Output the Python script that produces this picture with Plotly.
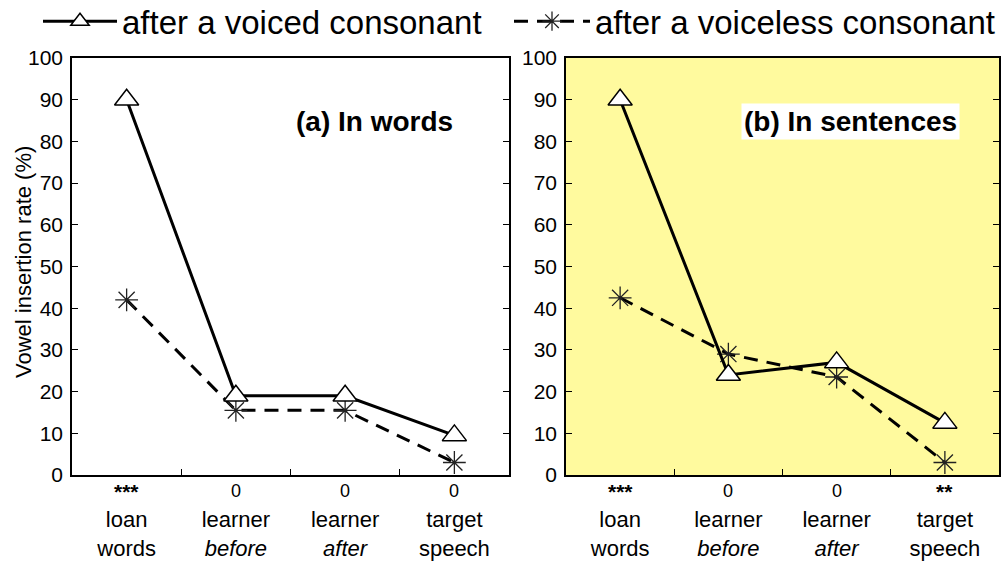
import plotly.graph_objects as go

# Conditions along the x axis (positions 1..4)
conditions = ["loan<br>words", "learner<br><i>before</i>", "learner<br><i>after</i>", "target<br>speech"]
positions = [1, 2, 3, 4]

# Vowel insertion rate (%) – (a) in words
words_voiced = [90, 19, 19, 9.5]
words_voiceless = [42, 15.5, 15.5, 3]
words_sig = ["***", "0", "0", "0"]

# Vowel insertion rate (%) – (b) in sentences
sent_voiced = [90, 24, 27, 12.5]
sent_voiceless = [42.5, 29, 23.5, 3]
sent_sig = ["***", "0", "0", "**"]

y_ticks = list(range(0, 101, 10))

FONT = "Liberation Sans, Arial, sans-serif"
W, H = 1001, 563


def px_x(p):
    return p / W


def px_y(p):
    return 1 - p / H


voiced_style = dict(
    mode="lines+markers",
    line=dict(color="black", width=3),
    marker=dict(symbol="triangle-up", size=21, color="white",
                line=dict(color="black", width=1.5)),
)
voiceless_style = dict(
    mode="lines+markers",
    line=dict(color="black", width=3, dash="14px,9px"),
    marker=dict(symbol="asterisk-open", size=19, color="#222",
                line=dict(color="#222", width=1.3)),
)

fig = go.Figure()

# (a) words
fig.add_trace(go.Scatter(x=positions, y=words_voiceless, xaxis="x", yaxis="y",
                         name="after a voiceless consonant", legend="legend2",
                         **voiceless_style))
fig.add_trace(go.Scatter(x=positions, y=words_voiced, xaxis="x", yaxis="y",
                         name="after a voiced consonant", legend="legend",
                         **voiced_style))
# (b) sentences
fig.add_trace(go.Scatter(x=positions, y=sent_voiceless, xaxis="x2", yaxis="y2",
                         showlegend=False, **voiceless_style))
fig.add_trace(go.Scatter(x=positions, y=sent_voiced, xaxis="x2", yaxis="y2",
                         showlegend=False, **voiced_style))

ydom = [px_y(475), px_y(58)]

xaxis_common = dict(
    range=[0.5, 4.5],
    tickvals=positions,
    ticktext=conditions,
    ticks="",
    showgrid=False,
    zeroline=False,
    showline=True,
    linecolor="black",
    linewidth=1.5,
    mirror=True,
    ticklabelstandoff=24,
    tickfont=dict(family=FONT, size=22, color="black"),
    minor=dict(tickvals=[1.5, 2.5, 3.5], ticks="inside", ticklen=6,
               tickcolor="black", tickwidth=1.2, showgrid=False),
)
yaxis_common = dict(
    range=[0, 100],
    tickvals=y_ticks,
    ticks="inside",
    ticklen=6,
    tickcolor="black",
    tickwidth=1.2,
    showgrid=False,
    zeroline=False,
    showline=True,
    linecolor="black",
    linewidth=1.5,
    mirror="ticks",
    ticklabelstandoff=3,
    tickfont=dict(family=FONT, size=21, color="black"),
    domain=ydom,
)

legend_common = dict(
    y=1.012, xanchor="left", yanchor="top",
    orientation="h", font=dict(family=FONT, size=33),
    bgcolor="rgba(0,0,0,0)", borderwidth=0,
)

# Significance marks above each condition label
sig_notes = []
for xa, sigs in (("x", words_sig), ("x2", sent_sig)):
    for pos, s in zip(positions, sigs):
        is_star = s.startswith("*")
        sig_notes.append(dict(
            text=f"<b>{s}</b>" if is_star else s,
            x=pos, xref=xa, y=px_y(491), yref="paper",
            xanchor="center", yanchor="middle", showarrow=False,
            font=dict(family=FONT, size=21 if is_star else 18)))

fig.update_layout(
    width=W,
    height=H,
    margin=dict(l=0, r=0, t=0, b=0, autoexpand=False),
    paper_bgcolor="white",
    plot_bgcolor="white",
    font=dict(family=FONT, color="black"),
    xaxis=dict(domain=[px_x(72), px_x(509)], anchor="y", **xaxis_common),
    yaxis=dict(anchor="x", **yaxis_common),
    xaxis2=dict(domain=[px_x(566), px_x(999)], anchor="y2", **xaxis_common),
    yaxis2=dict(anchor="x2", **yaxis_common),
    legend=dict(x=px_x(38), itemwidth=74, **legend_common),
    legend2=dict(x=px_x(509), itemwidth=76, **legend_common),
    shapes=[
        dict(type="rect", xref="x2 domain", yref="y2 domain",
             x0=0, x1=1, y0=0, y1=1, fillcolor="#FFFA9E",
             line=dict(width=0), layer="below"),
    ],
    annotations=[
        dict(text="Vowel insertion rate (%)", textangle=-90,
             x=px_x(23), y=px_y(262), xref="paper", yref="paper",
             xanchor="center", yanchor="middle",
             showarrow=False, font=dict(family=FONT, size=22)),
        dict(text="<b>(a) In words</b>", x=px_x(374), y=px_y(121),
             xref="paper", yref="paper", xanchor="center", yanchor="middle",
             showarrow=False, font=dict(family=FONT, size=28)),
        dict(text="<b>(b) In sentences</b>", x=px_x(850), y=px_y(121),
             xref="paper", yref="paper", xanchor="center", yanchor="middle",
             showarrow=False, bgcolor="white", borderpad=2,
             font=dict(family=FONT, size=28)),
    ] + sig_notes,
)

fig.write_html("out.html")
